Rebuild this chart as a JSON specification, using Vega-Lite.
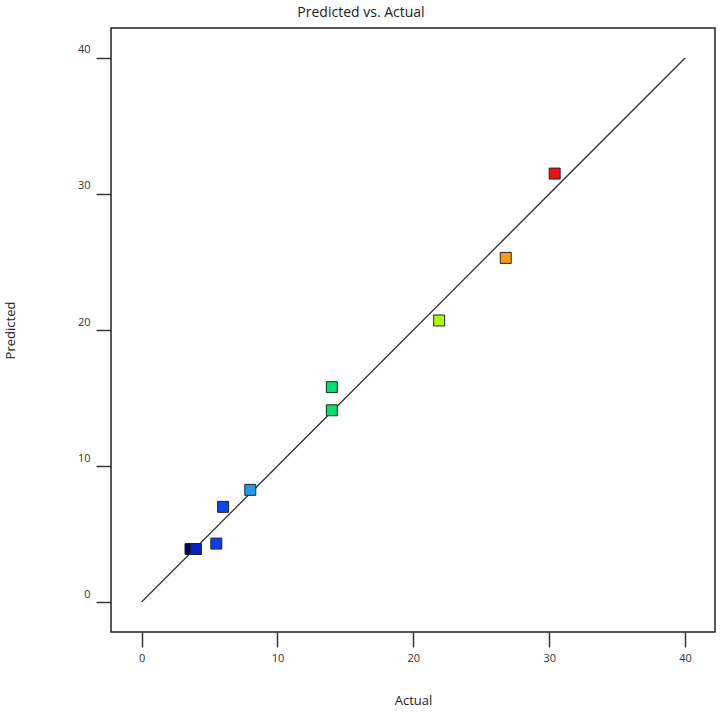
{
  "$schema": "https://vega.github.io/schema/vega-lite/v6.json",
  "autosize": {"type": "none"},
  "width": 604,
  "height": 604,
  "padding": {"left": 111, "top": 28, "right": 5, "bottom": 89},
  "background": "white",
  "config": {
    "font": "Open Sans",
    "view": {"stroke": "#222", "strokeWidth": 1.5},
    "axis": {
      "grid": false,
      "domain": false,
      "tickSize": 15,
      "tickColor": "#333",
      "tickWidth": 1.5,
      "labelFont": "Open Sans",
      "labelFontSize": 11,
      "labelColor": "#333",
      "titleFont": "Open Sans",
      "titleFontSize": 13,
      "titleFontWeight": "normal",
      "titleColor": "#222"
    }
  },
  "title": {
    "text": "Predicted vs. Actual",
    "fontSize": 14,
    "fontWeight": "normal",
    "font": "Open Sans",
    "color": "#222",
    "anchor": "middle",
    "dx": -52,
    "offset": 8
  },
  "datasets": {
    "points": [
      {"Actual": 3.6, "Predicted": 3.9},
      {"Actual": 4.0, "Predicted": 3.9},
      {"Actual": 5.5, "Predicted": 4.3},
      {"Actual": 6.0, "Predicted": 7.0},
      {"Actual": 8.0, "Predicted": 8.25},
      {"Actual": 14.0, "Predicted": 15.8},
      {"Actual": 14.0, "Predicted": 14.1},
      {"Actual": 21.9, "Predicted": 20.7},
      {"Actual": 26.8, "Predicted": 25.3},
      {"Actual": 30.4, "Predicted": 31.5}
    ],
    "diag": [
      {"Actual": 0, "Predicted": 0},
      {"Actual": 40, "Predicted": 40}
    ]
  },
  "layer": [
    {
      "data": {"name": "diag"},
      "mark": {"type": "line", "color": "#333", "strokeWidth": 1.3},
      "encoding": {
        "x": {"field": "Actual", "type": "quantitative"},
        "y": {"field": "Predicted", "type": "quantitative"}
      }
    },
    {
      "data": {"name": "points"},
      "mark": {"type": "square", "size": 120, "filled": true, "opacity": 1, "stroke": "#222", "strokeWidth": 1},
      "encoding": {
        "x": {
          "field": "Actual", "type": "quantitative",
          "scale": {"domain": [-2.25, 42.2], "nice": false, "zero": false},
          "axis": {"values": [0, 10, 20, 30, 40], "title": "Actual", "labelPadding": 5, "titlePadding": 31}
        },
        "y": {
          "field": "Predicted", "type": "quantitative",
          "scale": {"domain": [-2.2, 42.2], "nice": false, "zero": false},
          "axis": {"values": [0, 10, 20, 30, 40], "title": "Predicted", "labelPadding": 6, "labelOffset": -8, "titlePadding": 60}
        },
        "color": {
          "field": "Actual", "type": "quantitative", "legend": null,
          "scale": {
            "domain": [3.6, 4.0, 5.5, 6.0, 8.0, 14.0, 21.9, 26.8, 30.4],
            "range": ["#000066", "#0a1ecc", "#0a3cff", "#0a46f0", "#1e9be6", "#00e070", "#aaff00", "#ff9a10", "#ee1111"]
          }
        }
      }
    }
  ]
}
